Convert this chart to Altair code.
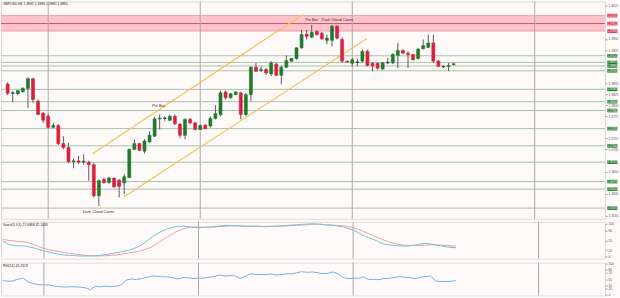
import altair as alt
import pandas as pd

# ---------------- data ----------------
opens = [1.3848, 1.3827, 1.3826, 1.3831, 1.3838, 1.3860, 1.3809, 1.3782, 1.3775, 1.3750,
         1.3754, 1.3713, 1.3704, 1.3672, 1.3674, 1.3671, 1.3671, 1.3665, 1.3595, 1.3632,
         1.3625, 1.3635, 1.3630, 1.3624, 1.3636, 1.3700, 1.3713, 1.3696, 1.3717, 1.3730,
         1.3769, 1.3771, 1.3766, 1.3775, 1.3757, 1.3732, 1.3768, 1.3760, 1.3745, 1.3755,
         1.3753, 1.3770, 1.3779, 1.3830, 1.3817, 1.3824, 1.3828, 1.3779, 1.3824, 1.3886,
         1.3879, 1.3881, 1.3871, 1.3893, 1.3868, 1.3886, 1.3900, 1.3906, 1.3930, 1.3961,
         1.3954, 1.3967, 1.3963, 1.3947, 1.3947, 1.3979, 1.3949, 1.3900, 1.3895, 1.3898,
         1.3900, 1.3922, 1.3895, 1.3895, 1.3882, 1.3896, 1.3896, 1.3913, 1.3924, 1.3918,
         1.3915, 1.3906, 1.3928, 1.3931, 1.3941, 1.3900, 1.3888, 1.3888, 1.3892]
highs = [1.3852, 1.3832, 1.3835, 1.3841, 1.3863, 1.3862, 1.3813, 1.3784, 1.3780, 1.3760,
         1.3757, 1.3730, 1.3715, 1.3680, 1.3685, 1.3689, 1.3674, 1.3670, 1.3632, 1.3636,
         1.3638, 1.3636, 1.3633, 1.3644, 1.3702, 1.3723, 1.3715, 1.3723, 1.3741, 1.3773,
         1.3779, 1.3775, 1.3779, 1.3779, 1.3760, 1.3770, 1.3771, 1.3762, 1.3756, 1.3757,
         1.3775, 1.3800, 1.3833, 1.3833, 1.3828, 1.3832, 1.3830, 1.3828, 1.3888, 1.3896,
         1.3888, 1.3884, 1.3900, 1.3896, 1.3890, 1.3913, 1.3907, 1.3931, 1.3971, 1.3971,
         1.3982, 1.3970, 1.3966, 1.3960, 1.3982, 1.3981, 1.3954, 1.3901, 1.3907, 1.3905,
         1.3926, 1.3926, 1.3898, 1.3897, 1.3898, 1.3907, 1.3918, 1.3941, 1.3927, 1.3922,
         1.3916, 1.3930, 1.3949, 1.3960, 1.3960, 1.3903, 1.3890, 1.3896, 1.3896]
lows = [1.3823, 1.3807, 1.3823, 1.3828, 1.3794, 1.3805, 1.3778, 1.3760, 1.3748, 1.3748,
        1.3710, 1.3700, 1.3669, 1.3657, 1.3667, 1.3665, 1.3629, 1.3591, 1.3572, 1.3622,
        1.3622, 1.3613, 1.3591, 1.3599, 1.3635, 1.3698, 1.3696, 1.3691, 1.3715, 1.3728,
        1.3745, 1.3764, 1.3764, 1.3755, 1.3726, 1.3723, 1.3757, 1.3743, 1.3744, 1.3745,
        1.3749, 1.3768, 1.3775, 1.3813, 1.3815, 1.3823, 1.3768, 1.3775, 1.3809, 1.3875,
        1.3875, 1.3869, 1.3866, 1.3866, 1.3847, 1.3884, 1.3898, 1.3903, 1.3928, 1.3949,
        1.3952, 1.3958, 1.3949, 1.3938, 1.3933, 1.3949, 1.3896, 1.3896, 1.3888, 1.3888,
        1.3897, 1.3888, 1.3877, 1.3881, 1.3880, 1.3893, 1.3893, 1.3884, 1.3916, 1.3884,
        1.3901, 1.3903, 1.3926, 1.3930, 1.3896, 1.3886, 1.3884, 1.3877, 1.3890]
closes = [1.3827, 1.3828, 1.3833, 1.3838, 1.3860, 1.3813, 1.3779, 1.3766, 1.3750, 1.3754,
          1.3713, 1.3704, 1.3672, 1.3674, 1.3671, 1.3673, 1.3665, 1.3595, 1.3629, 1.3625,
          1.3635, 1.3615, 1.3616, 1.3638, 1.3700, 1.3713, 1.3698, 1.3719, 1.3732, 1.3769,
          1.3771, 1.3770, 1.3775, 1.3758, 1.3732, 1.3768, 1.3760, 1.3745, 1.3754, 1.3747,
          1.3770, 1.3781, 1.3828, 1.3817, 1.3826, 1.3830, 1.3779, 1.3824, 1.3886, 1.3877,
          1.3881, 1.3873, 1.3896, 1.3868, 1.3886, 1.3901, 1.3906, 1.3930, 1.3960, 1.3956,
          1.3965, 1.3960, 1.3950, 1.3952, 1.3979, 1.3952, 1.3900, 1.3898, 1.3903, 1.3897,
          1.3922, 1.3890, 1.3889, 1.3884, 1.3896, 1.3897, 1.3915, 1.3924, 1.3918, 1.3915,
          1.3903, 1.3927, 1.3935, 1.3941, 1.3900, 1.3888, 1.3887, 1.3890, 1.3894]

stoch_k = [48, 38, 34, 33, 33, 30, 27, 22, 17, 14, 10, 7, 5, 4, 3, 2, 2, 2, 3, 4,
           6, 9, 12, 15, 18, 22, 28, 36, 48, 60, 70, 78, 85, 89, 92, 93, 91, 89, 88, 89,
           90, 91, 93, 95, 95, 94, 93, 92, 93, 93, 92, 91, 92, 93, 93, 94, 96, 97, 98, 99,
           100, 99, 98, 96, 95, 93, 91, 86, 81, 73, 64, 58, 52, 45, 38, 36, 34, 33, 32, 33,
           35, 38, 40, 39, 36, 33, 30, 28, 27]
stoch_d = [52, 50, 48, 46, 45, 42, 37, 31, 25, 21, 18, 15, 12, 10, 8, 6, 4, 3, 2, 2,
           3, 4, 5, 7, 10, 13, 15, 19, 24, 30, 40, 50, 60, 70, 78, 84, 88, 90, 90, 89,
           89, 90, 91, 92, 93, 94, 94, 93, 92, 92, 92, 92, 92, 92, 93, 93, 94, 95, 96, 97,
           98, 99, 98, 97, 96, 95, 94, 92, 88, 83, 77, 70, 63, 56, 50, 45, 40, 37, 35, 34,
           34, 34, 35, 36, 36, 35, 34, 33, 32]
rsi = [45, 43, 44, 50, 53, 40, 35, 32, 31, 31, 27, 26, 24, 25, 25, 24, 22, 16, 26, 25,
       27, 26, 27, 31, 47, 50, 48, 52, 56, 60, 59, 58, 57, 54, 50, 55, 54, 52, 53, 53,
       56, 58, 63, 60, 61, 61, 52, 58, 67, 65, 65, 64, 67, 63, 65, 67, 67, 70, 74, 72,
       73, 71, 68, 68, 73, 68, 56, 51, 53, 52, 57, 49, 49, 48, 52, 52, 55, 58, 56, 55,
       51, 56, 58, 60, 44, 42, 42, 43, 45]

x_labels = ["15 Jul 2021", "16 Jul 08:00", "19 Jul 00:00", "19 Jul 16:00", "20 Jul 08:00",
            "21 Jul 00:00", "21 Jul 16:00", "22 Jul 08:00", "23 Jul 00:00", "23 Jul 16:00",
            "26 Jul 08:00", "27 Jul 00:00", "27 Jul 16:00", "28 Jul 08:00", "29 Jul 00:00",
            "29 Jul 16:00", "30 Jul 08:00", "2 Aug 00:00", "2 Aug 16:00", "3 Aug 08:00",
            "4 Aug 00:00", "4 Aug 16:00", "5 Aug 08:00"]
x_label_pos = list(range(0, 89, 4))

# price-scale labels that stay visible (the others sit under the coloured price boxes)
price_ticks = [1.4025, 1.3950, 1.3925, 1.3850, 1.3825, 1.3800, 1.3775, 1.3725,
               1.3700, 1.3650, 1.3600, 1.3550]
level_prices = [1.3912, 1.3897, 1.3889, 1.3878, 1.3836, 1.3808, 1.3788, 1.3747,
                1.3708, 1.3671, 1.3627, 1.3610, 1.3567]
zone_prices = [1.4003, 1.3985, 1.3968]
separators = [8, 38, 68, 104]

channel_name = ["upper", "upper", "lower", "lower"]
channel_i = [16.75, 58.3, 22.9, 70.9]
channel_p = [1.3690, 1.4006, 1.3592, 1.3951]

note_text = ["Pin Bar", "Pin Bar", "Dark Cloud Cover", "Dark Cloud Cover"]
note_i = [28.5, 58.7, 62.0, 14.8]
note_p = [1.3798, 1.3992, 1.3992, 1.3559]

header_main = "GBPUSD,H4  1.3892 1.3896 1.3890 1.3894"
header_stoch = "Stoch(5,3,3) 27.0968 32.1433"
header_rsi = "RSI(14) 45.2319"

# ---------------- styling ----------------
W = 606
BG = "#FFFAFA"
GREEN = "#1F7A2A"
RED = "#D8203F"
XS = alt.Scale(domain=[-0.33, 116.9], nice=False, zero=False)
FONT = "Liberation Sans"

n = len(closes)
idx = list(range(n))
candles = pd.DataFrame({"i": idx, "open": opens, "high": highs, "low": lows, "close": closes})
candles["dir"] = ["doji" if abs(c - o) < 0.00015 else ("up" if c > o else "down")
                  for o, c in zip(opens, closes)]

def yaxis(values, fmt=None):
    kw = dict(orient="right", values=values, labelFontSize=3.2, labelColor="#555",
              tickSize=2, tickColor="#999", labelPadding=1, domain=False, grid=False,
              title=None, labelOverlap=False, labelFlush=False, labelBound=False,
              minExtent=14, maxExtent=14)
    if fmt:
        kw["format"] = fmt
    return alt.Axis(**kw)

YS = alt.Scale(domain=[1.35428, 1.4035], nice=False, zero=False)
YA = yaxis(price_ticks, ".4f")

def ym(field):
    return alt.Y(field, scale=YS, axis=YA)

xq = alt.X("i:Q", scale=XS, axis=None)

zone_df = pd.DataFrame({"top": [zone_prices[0]], "bottom": [zone_prices[2]]})
zone = alt.Chart(zone_df).mark_rect(color="#FFC3CD").encode(y=ym("top:Q"), y2="bottom:Q")
zone_edges = alt.Chart(pd.DataFrame({"price": [zone_prices[0], zone_prices[2]]})).mark_rule(
    color="#EDA0AE", strokeWidth=1).encode(y=ym("price:Q"))
zone_mid = alt.Chart(pd.DataFrame({"price": [zone_prices[1]]})).mark_rule(
    color="#C25A6C", strokeWidth=1).encode(y=ym("price:Q"))
levels = alt.Chart(pd.DataFrame({"price": level_prices})).mark_rule(
    color="#A6C3A6", strokeWidth=1).encode(y=ym("price:Q"))
seps_df = pd.DataFrame({"i": separators})
seps = alt.Chart(seps_df).mark_rule(color="#A9A9A9", strokeWidth=1).encode(x=xq)
chan = alt.Chart(pd.DataFrame({"line": channel_name, "i": channel_i, "p": channel_p})).mark_line(
    color="#F0C35A", strokeWidth=1.2).encode(x=xq, y=ym("p:Q"), detail="line:N")
wicks = alt.Chart(candles).mark_rule(color="#5C5C5C", strokeWidth=1).encode(
    x=xq, y=ym("low:Q"), y2="high:Q")
cscale = alt.Scale(domain=["up", "down", "doji"], range=[GREEN, RED, "#333333"])
bodies = alt.Chart(candles).mark_bar(size=3, strokeWidth=0.6).encode(
    x=xq, y=ym("open:Q"), y2="close:Q",
    color=alt.Color("dir:N", scale=cscale, legend=None),
    stroke=alt.Stroke("dir:N", scale=cscale, legend=None))
notes = alt.Chart(pd.DataFrame({"t": note_text, "i": note_i, "p": note_p})).mark_text(
    align="left", baseline="middle", fontSize=4, color="#333333").encode(
    x=xq, y=ym("p:Q"), text="t:N")
head = alt.Chart(pd.DataFrame({"t": [header_main]})).mark_text(
    align="left", baseline="middle", fontSize=3.4, color="#222222").encode(
    x=alt.value(2), y=alt.value(3), text="t:N")

box_df = pd.DataFrame({"price": level_prices + zone_prices,
                       "kind": ["g"] * len(level_prices) + ["r"] * len(zone_prices)})
box_shape = "M-1,-0.36H1V0.36H-1Z"
boxes = alt.Chart(box_df).mark_point(shape=box_shape, size=100, filled=True, opacity=1,
                                     strokeWidth=0).encode(
    x=alt.value(613.3), y=ym("price:Q"),
    color=alt.Color("kind:N", scale=alt.Scale(domain=["g", "r"], range=["#2C8A3A", "#E3445F"]),
                    legend=None))
box_txt = alt.Chart(box_df).mark_text(fontSize=2.6, color="white", align="center",
                                      baseline="middle").encode(
    x=alt.value(613.3), y=ym("price:Q"), text=alt.Text("price:Q", format=".5f"))

main = alt.layer(zone, zone_edges, zone_mid, levels, seps, chan, wicks, bodies, notes,
                 head, boxes, box_txt).properties(width=W, height=218)

# ---------------- stochastic ----------------
st_df = pd.DataFrame({"i": idx, "k": stoch_k, "d": stoch_d})
SS = alt.Scale(domain=[-6, 106], nice=False, zero=False)
SA = yaxis([0, 20, 50, 80, 100])
st_d = alt.Chart(st_df).mark_line(color="#E9A3A3", strokeWidth=1).encode(
    x=xq, y=alt.Y("d:Q", scale=SS, axis=SA))
st_k = alt.Chart(st_df).mark_line(color="#72C4D4", strokeWidth=1).encode(
    x=xq, y=alt.Y("k:Q", scale=SS, axis=SA))
st_head = alt.Chart(pd.DataFrame({"t": [header_stoch]})).mark_text(
    align="left", baseline="middle", fontSize=3.4, color="#222222").encode(
    x=alt.value(2), y=alt.value(3), text="t:N")
stoch = alt.layer(seps, st_d, st_k, st_head).properties(width=W, height=37)

# ---------------- RSI ----------------
rsi_df = pd.DataFrame({"i": idx, "r": rsi})
RS = alt.Scale(domain=[-3.2, 103.2], nice=False, zero=False)
RA = yaxis([0, 20, 30, 50, 70, 80, 100])
label_expr = "[" + ",".join("'%s'" % s for s in x_labels) + "][round(datum.value/4)]"
XA = alt.Axis(values=x_label_pos, labelExpr=label_expr, labelAlign="left", labelFontSize=3.2,
              labelColor="#333333", tickSize=2, tickColor="#999", labelPadding=1,
              domain=False, grid=False, title=None, labelOverlap=False, labelFlush=False,
              labelBound=False, minExtent=8, maxExtent=8)
rsi_line = alt.Chart(rsi_df).mark_line(color="#78B2E2", strokeWidth=1).encode(
    x=alt.X("i:Q", scale=XS, axis=XA), y=alt.Y("r:Q", scale=RS, axis=RA))
rsi_head = alt.Chart(pd.DataFrame({"t": [header_rsi]})).mark_text(
    align="left", baseline="middle", fontSize=3.4, color="#222222").encode(
    x=alt.value(2), y=alt.value(3), text="t:N")
rsi_panel = alt.layer(seps, rsi_line, rsi_head).properties(width=W, height=33)

chart = alt.vconcat(main, stoch, rsi_panel, spacing=1).properties(
    padding=0, background=BG
).configure_view(stroke="#7A7A7A", strokeWidth=1, fill=BG).configure(font=FONT)

chart.save("out.html", embed_options={"renderer": "svg", "actions": False})
